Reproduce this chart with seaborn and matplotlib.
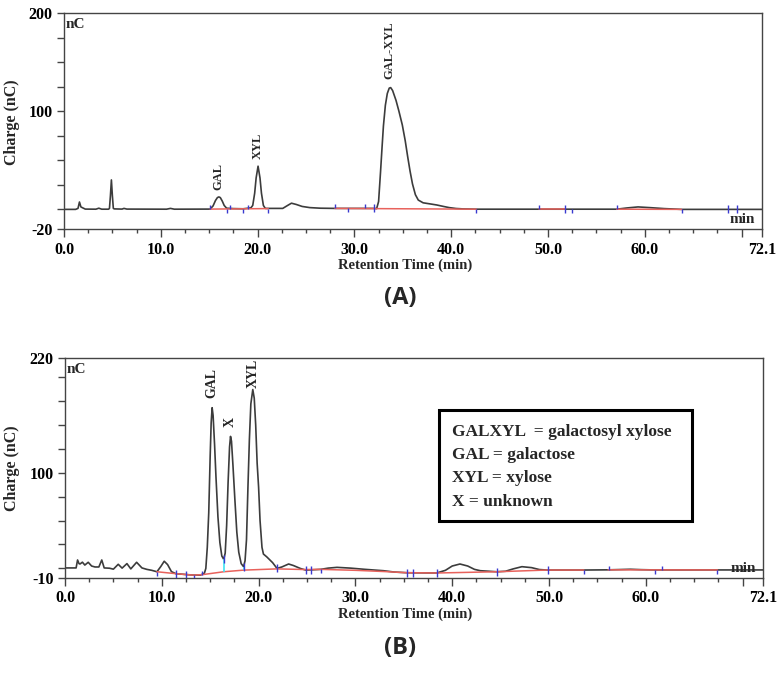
import matplotlib
matplotlib.use('Agg')

import matplotlib.pyplot as plt
from matplotlib.patches import Rectangle
from matplotlib.ticker import FixedLocator
import seaborn as sns

# ---- Panel A chromatogram (retention time in min, charge in nC) ----
a_time = [0.0, 1.2, 1.45, 1.6, 1.75, 1.95, 2.2, 3.3, 3.6, 3.9, 4.6, 4.7, 4.8, 4.9, 5.0, 5.1,
          5.2, 6.0, 6.2, 6.5, 10.6, 11.0, 11.4, 15.1, 15.4, 15.65, 15.85, 16.0, 16.15, 16.35,
          16.55, 16.8, 17.5, 18.5, 19.3, 19.5, 19.7, 19.85, 20.05, 20.25, 20.4, 20.6, 20.8,
          21.1, 22.6, 23.1, 23.5, 24.0, 24.6, 25.4, 26.5, 28.0, 32.0, 32.3, 32.5, 32.7, 32.85,
          33.0, 33.2, 33.4, 33.6, 33.75, 33.95, 34.3, 34.6, 34.95, 35.25, 35.5, 35.75, 36.0,
          36.3, 36.6, 37.1, 38.0, 38.5, 39.2, 39.8, 40.5, 41.2, 42.6, 57.1, 58.2, 59.3, 60.5,
          62.0, 63.8, 72.1]
a_charge = [0, 0, 1, 7.5, 2.5, 1.5, 0.3, 0.2, 1.2, 0.2, 0.2, 1, 14, 30, 14, 1,
            0.5, 0.3, 1.0, 0.3, 0.2, 1.0, 0.2, 0.3, 3.5, 9, 12, 12.7, 12, 8.5,
            4, 1.2, 0.8, 0.6, 1.5, 4, 16.5, 32, 44, 32, 16.5, 4, 1,
            1, 1, 4, 6.3, 5, 3, 1.8, 1.2, 1, 1, 0.8, 8, 38, 62,
            85, 106, 118, 123.5, 124, 121, 111, 100, 86, 70, 54, 39, 26,
            15, 9.5, 6.7, 5.3, 4.5, 3, 1.8, 0.9, 0.5, 0.2, 0.2, 1.5, 2.5, 1.8,
            0.8, 0, 0]

# integration baselines (red) for panel A
a_base_segments = [([15.1, 21.1], [0.3, 0.8]), ([28.0, 42.6], [1.0, 0.2]),
                   ([49.1, 51.8], [0.2, 0.2]), ([57.1, 63.8], [0.2, 0.0])]
# peak start/end marks: time, level, kind (u=up, d=down, b=both)
a_marks = [(15.1, 0.5, 'u'), (16.8, 0.5, 'd'), (17.2, 0.5, 'u'), (18.5, 0.5, 'd'),
           (19.0, 0.5, 'u'), (21.1, 0.5, 'd'), (28.0, 1.0, 'u'), (29.3, 1.0, 'd'),
           (31.1, 1.0, 'u'), (32.0, 1.0, 'b'), (42.6, 0.2, 'd'), (49.1, 0.2, 'u'),
           (51.8, 0.2, 'b'), (52.5, 0.2, 'd'), (57.1, 0.2, 'u'), (63.8, 0.0, 'd'),
           (68.6, 0.0, 'b'), (69.5, 0.0, 'b')]
a_peaks = [('GAL', 16.0, 33), ('XYL', 20.0, 65), ('GAL-XYL', 33.6, 162)]

# ---- Panel B chromatogram ----
b_time = [0.0, 1.15, 1.3, 1.45, 1.55, 1.8, 2.05, 2.4, 2.75, 3.1, 3.5, 3.8, 4.05, 4.6, 5.0,
          5.5, 5.9, 6.4, 6.8, 7.4, 7.95, 8.45, 8.96, 9.5, 9.9, 10.25, 10.6, 11.0, 11.45,
          12.6, 13.3, 14.0, 14.4, 14.55, 14.7, 14.85, 15.0, 15.1, 15.2, 15.3, 15.45, 15.6,
          15.8, 16.0, 16.2, 16.4, 16.55, 16.7, 16.85, 17.0, 17.1, 17.2, 17.35, 17.55, 17.75,
          17.95, 18.2, 18.45, 18.6, 18.75, 18.9, 19.05, 19.2, 19.4, 19.55, 19.7, 19.85,
          20.0, 20.15, 20.35, 20.5, 20.85, 21.15, 21.45, 21.9, 22.4, 23.1, 23.6, 24.3,
          24.85, 25.5, 26.4, 27.2, 28.1, 29.5, 31.0, 32.9, 34.0, 35.3, 36.0, 38.4, 39.3,
          40.0, 40.8, 41.6, 42.3, 42.9, 44.6, 45.5, 46.3, 47.2, 48.2, 49.0, 49.8, 53.6,
          56.1, 57.3, 58.4, 59.5, 60.9, 72.1]
b_charge = [0.5, 0.5, 8.8, 5, 4.6, 6.5, 3.5, 6.4, 2.5, 1.5, 1.5, 8.8, 0.5, 0.2, -0.8,
            4.3, 0.3, 5, -0.5, 6.4, 0.5, -1, -2, -3.5, 2, 7.5, 4, -3.4, -5.5,
            -6.5, -7, -7, -5, 0, 22, 58, 118, 152, 168, 160, 130, 95,
            54, 27, 13, 9.5, 16, 45, 90, 127, 138, 133, 108, 72, 38,
            17, 5, 1.8, 8, 30, 85, 135, 172, 187, 178, 150, 110,
            85, 50, 22, 15, 12, 9, 6, 0, 1.5, 4.6, 3, 0,
            -1.7, -1.5, -1, 0.3, 1.1, 0.3, -1, -2.4, -3.8, -4.5, -4.6, -4.8, -2,
            2.5, 4.6, 2.5, -1, -2.4, -3.5, -3, -0.5, 1.8, 0.8, -1.2, -1.7, -1.7,
            -1.5, -1.2, -0.9, -1.3, -1.6, -1.6]

b_base_segments = [([9.5, 11.45, 12.6, 13.3, 14.2, 16.4, 18.45, 21.9, 24.85, 26.4, 30.0,
                     33.0, 35.3, 38.4, 44.6, 49.8, 53.6],
                    [-3.5, -5.5, -6.5, -7, -6.5, -3.5, -1.8, -0.5, -1.2, -1.0, -2.0,
                     -3.3, -4.5, -4.8, -3.5, -1.7, -1.7]),
                   ([56.1, 67.4], [-1.5, -1.6])]
b_marks = [(9.5, -3.5, 'd'), (11.45, -5.5, 'b'), (12.5, -6.5, 'b'), (13.3, -7, 'd'),
           (14.2, -6.5, 'u'), (16.4, 9.5, 'b'), (18.45, 1.8, 'b'), (21.9, 0, 'b'),
           (24.85, -1.5, 'b'), (25.4, -1.3, 'b'), (26.4, -1.0, 'd'), (35.3, -4.5, 'b'),
           (36.0, -4.6, 'b'), (38.4, -4.8, 'b'), (44.6, -3.5, 'b'), (49.9, -1.7, 'b'),
           (53.6, -1.7, 'd'), (56.2, -1.5, 'u'), (60.9, -1.6, 'd'), (61.7, -1.6, 'u'),
           (67.4, -1.6, 'd')]
# valley drop lines (cyan): time, top, bottom
b_drops = [(16.4, 9.5, -3.5), (18.45, 1.8, -1.8)]
b_peaks = [('GAL', 15.2, 194), ('X', 17.1, 153), ('XYL', 19.4, 204)]
legend_lines = ['GALXYL  = galactosyl xylose', 'GAL = galactose', 'XYL = xylose',
                'X = unknown']

x_major = [0, 10, 20, 30, 40, 50, 60, 70, 72.1]
x_major_labels = ['0.0', '10.0', '20.0', '30.0', '40.0', '50.0', '60.0', '', '72.1']
x_minor = [2.5 * i for i in range(29) if i % 4 != 0]

TRACE = '#3c3c3c'
RED = '#e8625c'
BLUE = '#3a3ad0'
CYAN = '#3fe3f2'
FRAME = '#444444'

sns.set_theme(style='ticks')
plt.rcParams.update({
    'font.family': ['Liberation Serif', 'DejaVu Serif'],
    'font.weight': 'bold',
    'axes.linewidth': 1.0,
    'axes.edgecolor': FRAME,
    'xtick.color': FRAME,
    'ytick.color': FRAME,
    'xtick.labelcolor': 'black',
    'ytick.labelcolor': 'black',
})

fig = plt.figure(figsize=(7.81, 6.73), dpi=100)
axA = fig.add_axes([0.0819, 0.6597, 0.8937, 0.3210])
axB = fig.add_axes([0.0832, 0.1412, 0.8937, 0.3269])


def style_axis(ax, ylim, y_major, y_minor):
    ax.set_xlim(0, 72.1)
    ax.set_ylim(*ylim)
    ax.xaxis.set_major_locator(FixedLocator(x_major))
    ax.set_xticklabels(x_major_labels)
    ax.xaxis.set_minor_locator(FixedLocator(x_minor))
    ax.yaxis.set_major_locator(FixedLocator(y_major))
    ax.set_yticklabels([str(v) for v in y_major])
    ax.yaxis.set_minor_locator(FixedLocator(y_minor))
    ax.tick_params(axis='x', which='major', length=6, width=1, pad=3, labelsize=11.5)
    ax.tick_params(axis='x', which='minor', length=3, width=1)
    ax.tick_params(axis='y', which='both', length=5, width=1, pad=3, labelsize=11.5)
    for s in ax.spines.values():
        s.set_visible(True)
        s.set_color(FRAME)
    ax.set_xlabel('')
    ax.set_ylabel('')
    ax.text(0.002, 0.975, 'nC', transform=ax.transAxes, ha='left', va='top', fontsize=11)
    ax.text(0.99, 0.012, 'min', transform=ax.transAxes, ha='right', va='bottom', fontsize=11)


def draw_marks(ax, marks, h):
    for t, lvl, kind in marks:
        lo = lvl - h if kind in 'db' else lvl
        hi = lvl + h if kind in 'ub' else lvl
        ax.vlines(t, lo, hi, color=BLUE, lw=1.0, zorder=4)


# ---- Panel A ----
sns.lineplot(x=a_time, y=a_charge, ax=axA, color=TRACE, lw=1.2, sort=False, estimator=None)
for xs, ys in a_base_segments:
    axA.plot(xs, ys, color=RED, lw=1.1, zorder=3)
draw_marks(axA, a_marks, 4)
for name, t, y in a_peaks:
    axA.text(t, y, name, rotation=90, ha='center', va='center', fontsize=9)
style_axis(axA, (-20, 200), [-20, 100, 200], [0, 25, 50, 75, 125, 150, 175])

# ---- Panel B ----
sns.lineplot(x=b_time, y=b_charge, ax=axB, color=TRACE, lw=1.2, sort=False, estimator=None)
for xs, ys in b_base_segments:
    axB.plot(xs, ys, color=RED, lw=1.1, zorder=3)
for t, top, bot in b_drops:
    axB.vlines(t, bot, top, color=CYAN, lw=1.2, zorder=3)
draw_marks(axB, b_marks, 4.2)
for name, t, y in b_peaks:
    axB.text(t, y, name, rotation=90, ha='center', va='center', fontsize=10)
style_axis(axB, (-10, 220), [-10, 100, 220], [0, 25, 50, 75, 125, 150, 175, 200])

axB.add_patch(Rectangle((0.536, 0.259), 0.362, 0.505, transform=axB.transAxes,
                        fill=False, edgecolor='black', lw=2.2, zorder=5))
for i, line in enumerate(legend_lines):
    axB.text(0.554, 0.665 - i * 0.106, line, transform=axB.transAxes,
             ha='left', va='center', fontsize=12.5)

# axis titles and panel letters
for yc_lab, yc_title, yc_letter, letter in [(122, 265, 298, '(A)'), (468, 614, 648, '(B)')]:
    fig.text(12 / 781, 1 - yc_lab / 673, 'Charge (nC)', rotation=90,
             ha='center', va='center', fontsize=11.5)
    fig.text(405 / 781, 1 - yc_title / 673, 'Retention Time (min)',
             ha='center', va='center', fontsize=10.5)
    fig.text(400 / 781, 1 - yc_letter / 673, letter, ha='center', va='center',
             fontsize=17, family='Open Sans', weight='bold')

fig.savefig('out.png', dpi=100)
plt.close(fig)
